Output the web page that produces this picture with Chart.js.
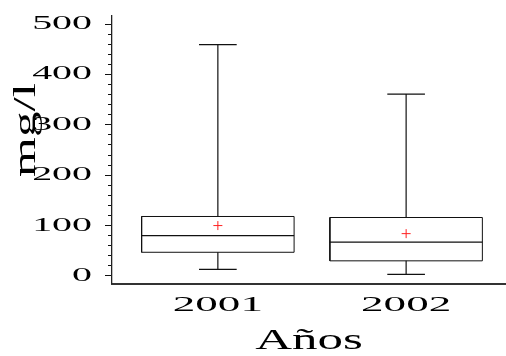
<!DOCTYPE html>
<html><head><meta charset="utf-8">
<script src="https://cdn.jsdelivr.net/npm/chart.js@4/dist/chart.umd.min.js"></script>
<style>html,body{margin:0;padding:0;background:#fff;overflow:hidden;}</style>
</head><body>
<canvas id="c" width="506" height="356" style="display:block;width:506px;height:356px"></canvas>
<script>
// ---- data ----
const categories = ['2001', '2002'];
const whiskerLow = [13, 3];
const q1 = [47, 30];
const median = [80, 67];
const q3 = [118, 116];
const whiskerHigh = [459, 361];
const means = [100, 84];
const yTickValues = [0, 100, 200, 300, 400, 500];
const yMinorTickValues = [0, 20, 40, 60, 80, 100, 120, 140, 160, 180, 200, 220, 240, 260, 280, 300, 320, 340, 360, 380, 400, 420, 440, 460, 480, 500];

// ---- styling ----
const FONT = "'Liberation Serif', 'Times New Roman', serif";
const TEXT = '#000';
const BOX_HALF = 0.405;   // half box width in x units
const CAP_HALF = 0.1;     // half whisker cap width
// horizontal text widening per font size (the reference uses very wide lettering)
const STRETCH = {19: 2.1, 22: 2.05, 30: 1.7, 32: 1.6};

const canvas = document.getElementById('c');
const ctx = canvas.getContext('2d');
const origFill = ctx.fillText.bind(ctx);
const origMeasure = ctx.measureText.bind(ctx);
function stretchFor(font) {
  const m = /(\d+(?:\.\d+)?)px/.exec(font);
  return m && STRETCH[Math.round(parseFloat(m[1]))] ? STRETCH[Math.round(parseFloat(m[1]))] : 1;
}
ctx.fillText = function (t, x, y) {
  const k = stretchFor(ctx.font);
  if (k === 1) return origFill(t, x, y);
  ctx.save(); ctx.translate(x, y); ctx.scale(k, 1); origFill(t, 0, 0); ctx.restore();
};
ctx.measureText = function (t) {
  const m = origMeasure(t); const k = stretchFor(ctx.font);
  return {width: m.width * k, actualBoundingBoxAscent: m.actualBoundingBoxAscent,
    actualBoundingBoxDescent: m.actualBoundingBoxDescent,
    actualBoundingBoxLeft: m.actualBoundingBoxLeft * k, actualBoundingBoxRight: m.actualBoundingBoxRight * k};
};

// ---- build datasets from the arrays ----
const boxPts = [], medPts = [], whiskPts = [], meanPts = [];
categories.forEach((c, i) => {
  const x = i + 1;
  boxPts.push({x: x - BOX_HALF, y: q1[i]}, {x: x + BOX_HALF, y: q1[i]}, {x: x + BOX_HALF, y: q3[i]},
              {x: x - BOX_HALF, y: q3[i]}, {x: x - BOX_HALF, y: q1[i]}, {x: x, y: null});
  medPts.push({x: x - BOX_HALF, y: median[i]}, {x: x + BOX_HALF, y: median[i]}, {x: x, y: null});
  whiskPts.push({x: x, y: q3[i]}, {x: x, y: whiskerHigh[i]}, {x: x, y: null},
                {x: x - CAP_HALF, y: whiskerHigh[i]}, {x: x + CAP_HALF, y: whiskerHigh[i]}, {x: x, y: null},
                {x: x, y: q1[i]}, {x: x, y: whiskerLow[i]}, {x: x, y: null},
                {x: x - CAP_HALF, y: whiskerLow[i]}, {x: x + CAP_HALF, y: whiskerLow[i]}, {x: x, y: null});
  meanPts.push({x: x, y: means[i]});
});

const lineDs = (label, data, w) => ({label, data, yAxisID: 'y', showLine: true, spanGaps: false,
  borderColor: '#111', borderWidth: w, pointRadius: 0, fill: false, tension: 0});

const yTitle = {
  id: 'yTitle',
  afterDraw(chart) {
    const c = chart.ctx;
    c.save();
    c.font = "32px " + FONT; c.fillStyle = TEXT;
    c.textAlign = 'center'; c.textBaseline = 'alphabetic';
    c.translate(35, 130); c.rotate(-Math.PI / 2);
    c.fillText('mg/l', 0, 0);
    c.restore();
  }
};

const noPad = s => { s.paddingTop = 0; s.paddingBottom = 0; s.paddingLeft = 0; s.paddingRight = 0; };

new Chart(ctx, {
  type: 'scatter',
  data: {datasets: [
    lineDs('box', boxPts, 1),
    lineDs('median', medPts, 1.2),
    lineDs('whiskers', whiskPts, 1.2),
    {label: 'mean', data: meanPts, yAxisID: 'y', showLine: false, pointStyle: 'cross',
     pointRadius: 4.5, borderColor: '#ff2020', backgroundColor: '#ff2020', borderWidth: 1}
  ]},
  options: {
    responsive: false, animation: false, devicePixelRatio: 1,
    layout: {autoPadding: false, padding: {top: 16, left: 0, right: 0, bottom: 0}},
    plugins: {legend: {display: false}, tooltip: {enabled: false}},
    scales: {
      x: {
        type: 'linear', min: 0.4377, max: 2.5305,
        afterBuildTicks: s => { s.ticks = categories.map((c, i) => ({value: i + 1})); },
        afterFit: s => { s.height = 72.5; noPad(s); },
        grid: {drawOnChartArea: false, drawTicks: false},
        border: {display: true, color: '#333', width: 2},
        ticks: {autoSkip: false, maxRotation: 0, padding: 9, color: TEXT,
          font: {family: FONT, size: 22},
          callback: v => categories[Math.round(v) - 1] || ''},
        title: {display: true, text: 'Años', color: TEXT, padding: 0,
          font: {family: FONT, size: 30, lineHeight: 1}}
      },
      y: {
        type: 'linear', position: 'left', weight: 1, min: -15, max: 516,
        afterBuildTicks: s => { s.ticks = yTickValues.map(v => ({value: v})); },
        afterFit: s => { s.width = 112; noPad(s); },
        grid: {drawOnChartArea: false, drawTicks: true, tickLength: 7, tickColor: '#111'},
        border: {display: true, color: '#222', width: 1.3},
        ticks: {padding: 13, color: TEXT, font: {family: FONT, size: 19}}
      },
      yMinor: {
        type: 'linear', position: 'left', weight: 0, min: -15, max: 516,
        afterBuildTicks: s => { s.ticks = yMinorTickValues.map(v => ({value: v})); },
        afterFit: s => { s.width = 0; noPad(s); },
        grid: {drawOnChartArea: false, drawTicks: true, tickLength: 4, tickColor: '#111'},
        border: {display: false},
        ticks: {display: false}
      }
    }
  },
  plugins: [yTitle]
});
</script>
</body></html>
